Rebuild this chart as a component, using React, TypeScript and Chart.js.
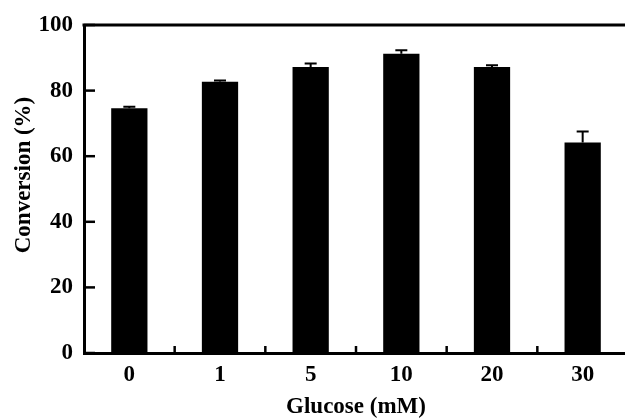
import { useEffect, useRef } from "react";
import { Chart, registerables } from "chart.js";

Chart.register(...registerables);

const categories = ["0", "1", "5", "10", "20", "30"];
const conversion = [74.6, 82.7, 87.2, 91.2, 87.2, 64.2];
const errors = [0.5, 0.4, 1.1, 1.1, 0.5, 3.3];
const yTickValues = [0, 20, 40, 60, 80, 100];
const xTitle = "Glucose (mM)";
const yTitle = "Conversion (%)";

const FONT = "'Liberation Serif', 'Times New Roman', serif";

export default function App() {
  const ref = useRef<HTMLCanvasElement>(null);

  useEffect(() => {
    if (!ref.current) return;

    const decor = {
      id: "decor",
      afterDraw(chart: any) {
        const { ctx, chartArea } = chart;
        const xs = chart.scales.x;
        const ys = chart.scales.y;
        ctx.save();
        ctx.strokeStyle = "#000";
        ctx.lineCap = "butt";

        // top frame line
        ctx.lineWidth = 3;
        ctx.beginPath();
        ctx.moveTo(chartArea.left - 1.5, chartArea.top);
        ctx.lineTo(chartArea.right + 5, chartArea.top);
        ctx.stroke();

        // inward y ticks
        ctx.lineWidth = 2.5;
        yTickValues.forEach((v) => {
          const y = ys.getPixelForValue(v);
          ctx.beginPath();
          ctx.moveTo(chartArea.left, y);
          ctx.lineTo(chartArea.left + 11, y);
          ctx.stroke();
        });

        // inward x ticks between categories
        for (let i = 0; i < categories.length - 1; i++) {
          const x = (xs.getPixelForValue(i) + xs.getPixelForValue(i + 1)) / 2;
          ctx.beginPath();
          ctx.moveTo(x, chartArea.bottom);
          ctx.lineTo(x, chartArea.bottom - 7);
          ctx.stroke();
        }

        // error bars
        const meta = chart.getDatasetMeta(0);
        ctx.lineWidth = 2;
        conversion.forEach((v, i) => {
          const x = meta.data[i].x;
          const y0 = ys.getPixelForValue(v);
          const y1 = ys.getPixelForValue(v + errors[i]);
          ctx.beginPath();
          ctx.moveTo(x, y0);
          ctx.lineTo(x, y1);
          ctx.moveTo(x - 6, y1);
          ctx.lineTo(x + 6, y1);
          ctx.stroke();
        });

        // y title
        ctx.fillStyle = "#000";
        ctx.font = `bold 23px ${FONT}`;
        ctx.textAlign = "center";
        ctx.textBaseline = "middle";
        ctx.translate(24, 175);
        ctx.rotate(-Math.PI / 2);
        ctx.fillText(yTitle, 0, 0);
        ctx.restore();
      },
    };

    const chart = new Chart(ref.current, {
      type: "bar",
      data: {
        labels: categories,
        datasets: [
          {
            data: conversion,
            backgroundColor: "#000",
            borderWidth: 0,
            categoryPercentage: 1,
            barPercentage: 0.4,
          },
        ],
      },
      options: {
        responsive: false,
        animation: false,
        events: [],
        layout: { padding: { left: 0, right: 2, top: 25, bottom: 0 } },
        plugins: {
          legend: { display: false },
          tooltip: { enabled: false },
        },
        scales: {
          x: {
            grid: { display: false, drawTicks: false },
            border: { display: true, width: 3, color: "#000" },
            ticks: {
              color: "#000",
              font: { family: FONT, size: 23, weight: "bold" },
              padding: 8,
              maxRotation: 0,
            },
            title: {
              display: true,
              text: xTitle,
              color: "#000",
              font: { family: FONT, size: 23, weight: "bold" },
              padding: { top: 0, bottom: -2 },
            },
            afterFit(scale: any) {
              scale.height = 66;
            },
          },
          y: {
            min: 0,
            max: 100,
            grid: { display: false, drawTicks: false },
            border: { display: true, width: 3, color: "#000" },
            ticks: {
              stepSize: 20,
              color: "#000",
              font: { family: FONT, size: 23, weight: "bold" },
              padding: 11,
            },
            afterFit(scale: any) {
              scale.width = 84;
            },
          },
        },
      },
      plugins: [decor],
    });

    return () => chart.destroy();
  }, []);

  return (
    <div
      style={{
        position: "fixed",
        left: 0,
        top: 0,
        width: 625,
        height: 419,
        overflow: "hidden",
        background: "#fff",
      }}
    >
      <canvas ref={ref} width={630} height={419} style={{ display: "block" }} />
    </div>
  );
}
